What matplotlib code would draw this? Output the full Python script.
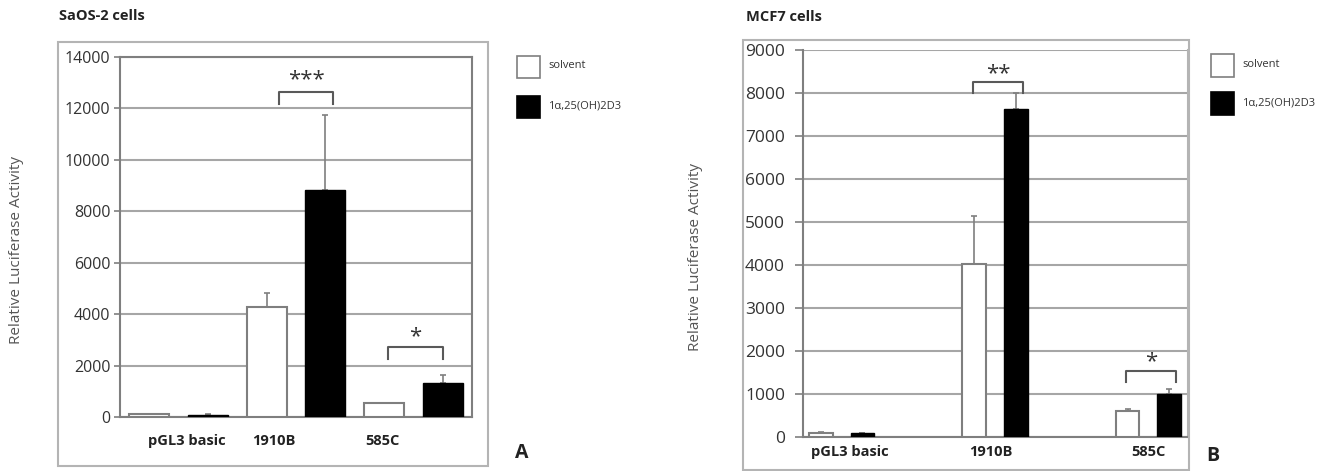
import matplotlib.pyplot as plt
from matplotlib.patches import Rectangle
import numpy as np

plt.rcParams['font.family'] = ['Open Sans', 'DejaVu Sans']

# ---------------- data ----------------
categories = ['pGL3 basic', '1910B', '585C']
series_names = ['solvent', '1\u03b1,25(OH)2D3']

# SaOS-2 cells (panel A)
saos_solvent = [100, 4280, 545]
saos_solvent_err = [25, 540, 0]
saos_treated = [90, 8820, 1320]
saos_treated_err = [20, 2940, 330]
saos_sig = ['', '***', '*']

# MCF7 cells (panel B)
mcf_solvent = [100, 4020, 605]
mcf_solvent_err = [15, 1120, 40]
mcf_treated = [95, 7620, 990]
mcf_treated_err = [0, 390, 120]
mcf_sig = ['', '**', '*']

W, H = 1318, 471
fig = plt.figure(figsize=(W / 100, H / 100), dpi=100)

GRID = '#a6a6a6'
EDGE = '#7f7f7f'
TXT = '#333333'


def px_box(x0, y0, x1, y1):
    return [x0 / W, 1 - y1 / H, (x1 - x0) / W, (y1 - y0) / H]


def outer_box(x0, y0, x1, y1):
    fig.patches.append(Rectangle((x0 / W, 1 - y1 / H), (x1 - x0) / W, (y1 - y0) / H,
                                 transform=fig.transFigure, fill=False,
                                 edgecolor='#b4b4b4', linewidth=1.5, zorder=0))


def legend(x, y_solvent, y_treated, box_w, box_h):
    # little boxes + text, figure pixel coordinates
    for yy, fc, ec, name in [(y_solvent, 'white', EDGE, series_names[0]),
                             (y_treated, 'black', 'black', series_names[1])]:
        fig.patches.append(Rectangle((x / W, 1 - (yy + box_h) / H), box_w / W, box_h / H,
                                     transform=fig.transFigure, facecolor=fc,
                                     edgecolor=ec, linewidth=1.2))
        fig.text((x + box_w + 8) / W, 1 - (yy + box_h / 2 - 1) / H, name,
                 fontsize=8, ha='left', va='center', color='#333333')


def draw_bars(ax, xs_s, xs_t, width, sol, sol_err, trt, trt_err):
    ax.bar(xs_s, sol, width, color='white', edgecolor=EDGE, linewidth=1.5, zorder=3)
    ax.bar(xs_t, trt, width, color='black', edgecolor='black', linewidth=1.0, zorder=3)
    ax.errorbar(xs_s, sol, yerr=[np.zeros(len(sol)), sol_err], fmt='none',
                ecolor=EDGE, elinewidth=1.2, capsize=2, capthick=1.2, zorder=2)
    ax.errorbar(xs_t, trt, yerr=[np.zeros(len(trt)), trt_err], fmt='none',
                ecolor=EDGE, elinewidth=1.2, capsize=2, capthick=1.2, zorder=2)


def bracket(ax, x1, x2, y_top, y_leg, y_txt, label, fs):
    ax.plot([x1, x1, x2, x2], [y_leg, y_top, y_top, y_leg], color='#595959',
            linewidth=1.5, zorder=4, clip_on=False)
    ax.text((x1 + x2) / 2, y_txt, label, ha='center', va='center', fontsize=fs,
            color='#333333', zorder=4)


def style_axes(ax, ymax, step, tick_fs, tick_len, pad):
    ax.set_ylim(0, ymax)
    ax.set_yticks(np.arange(0, ymax + 1, step))
    ax.yaxis.grid(True, color=GRID, linewidth=1.5, zorder=0)
    ax.set_axisbelow(True)
    for s in ax.spines.values():
        s.set_color(EDGE)
        s.set_linewidth(1.5)
    ax.spines['top'].set_visible(False)
    ax.tick_params(axis='y', length=tick_len, width=1.2, color=EDGE,
                   labelsize=tick_fs, labelcolor=TXT, pad=pad)
    ax.tick_params(axis='x', length=0)


# ---------------- panel A: SaOS-2 ----------------
outer_box(58, 42, 488, 466)
axA = fig.add_axes(px_box(120, 57, 472, 417))
xA = np.arange(len(categories)) * 2
draw_bars(axA, xA, xA + 1, 0.68, saos_solvent, saos_solvent_err,
          saos_treated, saos_treated_err)
axA.set_xlim(-0.5, 5.5)
style_axes(axA, 14000, 2000, 11.5, 4, 3)
axA.spines['top'].set_visible(True)
axA.set_xticks([0.64, 2.12, 3.98])
axA.set_xticklabels(categories, fontsize=10.5, fontweight='bold', color='#222222')
axA.tick_params(axis='x', pad=12)
axA.set_ylabel('Relative Luciferase Activity', fontsize=11, color='#555555')
axA.yaxis.set_label_coords(-0.273, 0.464)
bracket(axA, 2.21, 3.13, 12640, 12170, 13100, saos_sig[1], 16)
bracket(axA, 4.07, 5.0, 2710, 2270, 3120, saos_sig[2], 16)
fig.text(59 / W, 1 - 16 / H, 'SaOS-2 cells', fontsize=10.5, fontweight='bold',
         ha='left', va='center', color='#222222')
fig.text(522 / W, 1 - 453 / H, 'A', fontsize=14, fontweight='bold',
         ha='center', va='center', color='#222222')
legend(517, 56, 96, 23, 22)

# ---------------- panel B: MCF7 ----------------
outer_box(743, 40, 1189, 470)
axB = fig.add_axes(px_box(803, 50, 1188, 437))
xB = np.arange(len(categories))
draw_bars(axB, xB - 0.135, xB + 0.135, 0.155, mcf_solvent, mcf_solvent_err,
          mcf_treated, mcf_treated_err)
axB.set_xlim(-0.253, 2.259)
style_axes(axB, 9000, 1000, 12.5, 6, 7)
axB.spines['right'].set_color('#b4b4b4')
axB.set_xticks([0.054, 0.973, 1.998])
axB.set_xticklabels(categories, fontsize=10.5, fontweight='bold', color='#222222')
axB.tick_params(axis='x', pad=6)
axB.set_ylabel('Relative Luciferase Activity', fontsize=11, color='#555555')
axB.yaxis.set_label_coords(-0.26, 0.465)
bracket(axB, 0.856, 1.182, 8260, 8000, 8440, mcf_sig[1], 16)
bracket(axB, 1.854, 2.18, 1530, 1280, 1740, mcf_sig[2], 16)
fig.text(746 / W, 1 - 17 / H, 'MCF7 cells', fontsize=10.5, fontweight='bold',
         ha='left', va='center', color='#222222')
fig.text(1213 / W, 1 - 456 / H, 'B', fontsize=14, fontweight='bold',
         ha='center', va='center', color='#222222')
legend(1211, 54, 92, 23, 23)

fig.savefig('out.png', dpi=100)
